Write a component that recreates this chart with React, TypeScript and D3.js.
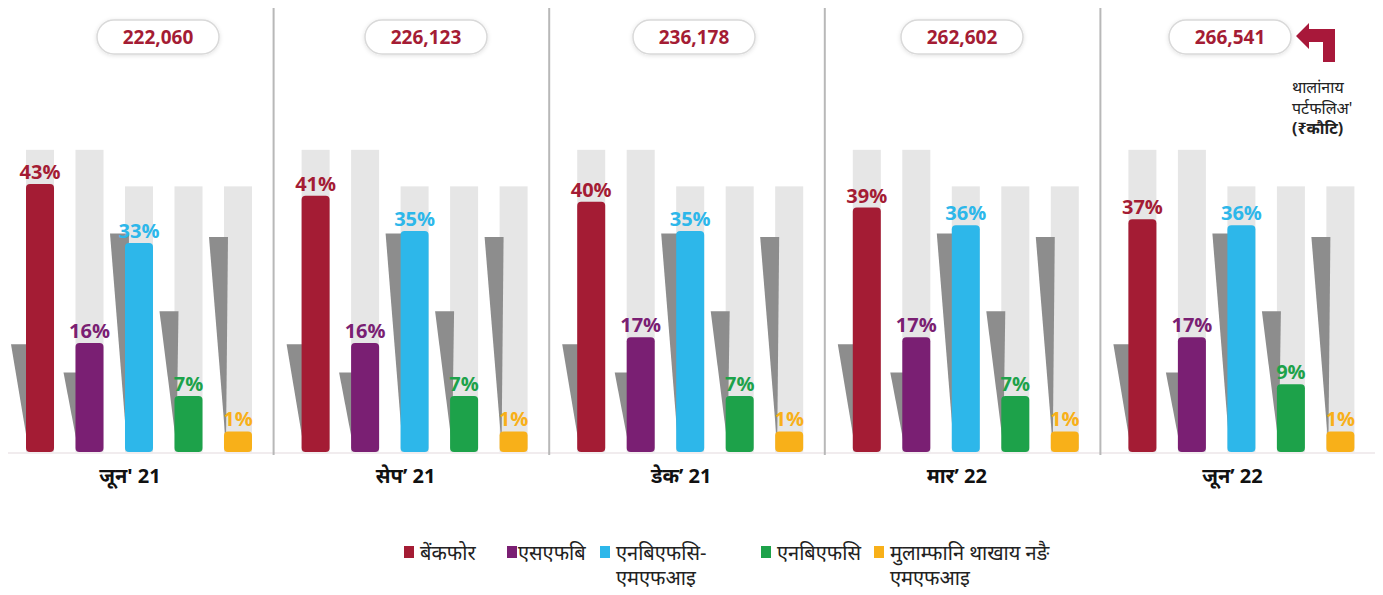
import React from "react";
import * as d3 from "d3";

const periods = ["जून' 21", "सेप’ 21", "डेक’ 21", "मार’ 22", "जून’ 22"];
const totals = [222060, 226123, 236178, 262602, 266541];
const seriesKeys = ["bank", "sfb", "nbfcMfi", "nbfc", "others"];
const seriesLabels = ["बेंकफोर", "एसएफबि", "एनबिएफसि-\nएमएफआइ", "एनबिएफसि", "मुलाम्फानि थाखाय नङै\nएमएफआइ"];
const seriesColors = ["#A41C34", "#7A1F73", "#2DB7EA", "#1DA24A", "#F8B019"];
const bankValues = [43, 41, 40, 39, 37];
const sfbValues = [16, 16, 17, 17, 17];
const nbfcMfiValues = [33, 35, 35, 36, 36];
const nbfcValues = [7, 7, 7, 7, 9];
const otherValues = [1, 1, 1, 1, 1];
const seriesValues = [bankValues, sfbValues, nbfcMfiValues, nbfcValues, otherValues];
const annotationLines = ["थालांनाय", "पर्टफलिअ'", "(₹कौटि)"];

// decorative shapes (in value units of the bar scale)
const backdropTops = [48.8, 48.8, 42.6, 42.6, 42.6];
const wedgeTops = [15.8, 11, 34.6, 21.4, 34];

const W = 1383;
const H = 595;
const baseY = 452;
const FONT = "'Open Sans', 'Noto Sans', sans-serif";
const DEVA = "'Noto Sans', 'Noto Sans Devanagari', 'Open Sans', sans-serif";

export default function App() {
  const idx = periods.map((_, i) => i);
  const xGroup = d3.scaleBand<number>().domain(idx).range([-4, 1374]).paddingInner(0).paddingOuter(0);
  const xSeries = d3.scaleBand<string>().domain(seriesKeys).range([30, 256]).paddingInner(0.434).paddingOuter(0);
  const y = d3.scaleLinear().domain([-2.5, 43]).range([baseY, 184]);
  const pillX = d3.scalePoint<number>().domain(idx).range([158, 1230]);
  const bw = xSeries.bandwidth();

  const legendX = [404, 507, 600, 761, 874];

  return (
    <div style={{ margin: -8 }}>
      <svg width={W} height={H} style={{ display: "block", background: "#fff" }}>
        <defs>
          <filter id="pillShadow" x="-20%" y="-40%" width="140%" height="180%">
            <feGaussianBlur in="SourceAlpha" stdDeviation="2" />
            <feOffset dx="0" dy="1" result="b" />
            <feFlood floodColor="#000" floodOpacity="0.12" />
            <feComposite in2="b" operator="in" />
            <feMerge>
              <feMergeNode />
              <feMergeNode in="SourceGraphic" />
            </feMerge>
          </filter>
        </defs>

        {/* baseline */}
        <line x1={0} x2={W} y1={baseY + 1} y2={baseY + 1} stroke="#ece6e8" strokeWidth={1.5} />

        {/* separators */}
        {idx.slice(1).map((i) => (
          <line key={"sep" + i} x1={xGroup(i)! + 2} x2={xGroup(i)! + 2} y1={5} y2={455} stroke="#b8b8b8" strokeWidth={2} />
        ))}

        {idx.map((gi) => {
          const gx = xGroup(gi)!;
          return (
            <g key={"g" + gi}>
              {seriesKeys.map((k, si) => {
                const bx = gx + xSeries(k)!;
                return (
                  <rect key={"bg" + k} x={bx} y={y(backdropTops[si])} width={bw} height={baseY - y(backdropTops[si])} fill="#e6e6e6" />
                );
              })}
              {seriesKeys.map((k, si) => {
                const bx = gx + xSeries(k)!;
                const wt = y(wedgeTops[si]);
                const left = si === 1 ? bx - 12 : bx - 15;
                return (
                  <path
                    key={"w" + k}
                    d={`M${left},${wt} L${bx + 4},${wt} L${bx + 2},${baseY - 6} Z`}
                    fill="#8d8d8d"
                  />
                );
              })}
              {seriesKeys.map((k, si) => {
                const bx = gx + xSeries(k)!;
                const v = seriesValues[si][gi];
                const top = y(v);
                return (
                  <g key={"b" + k}>
                    <rect x={bx} y={top} width={bw} height={baseY - top} rx={4} ry={4} fill={seriesColors[si]} />
                    <text
                      x={bx + bw / 2}
                      y={top - 5}
                      textAnchor="middle"
                      fontFamily={FONT}
                      fontWeight={700}
                      fontSize={20}
                      fill={seriesColors[si]}
                    >
                      {v + "%"}
                    </text>
                  </g>
                );
              })}
              <text x={gx + 134} y={483} textAnchor="middle" fontFamily={DEVA} fontWeight={700} fontSize={20} fill="#111">
                {periods[gi]}
              </text>
              <g filter="url(#pillShadow)">
                <rect x={pillX(gi)! - 61} y={20} width={122} height={34} rx={17} ry={17} fill="#fff" stroke="#d9d9d9" strokeWidth={1.5} />
              </g>
              <text x={pillX(gi)!} y={44} textAnchor="middle" fontFamily={FONT} fontWeight={700} fontSize={19} fill="#A41C34">
                {d3.format(",")(totals[gi])}
              </text>
            </g>
          );
        })}

        {/* arrow annotation */}
        <path
          d="M1296,36 L1309,23 L1309,29 L1335,29 L1335,62 L1323,62 L1323,42 L1309,42 L1309,49 Z"
          fill="#A8183A"
        />
        {annotationLines.map((t, i) => (
          <text key={"an" + i} x={1292} y={93 + i * 20.5} fontFamily={DEVA} fontSize={16} fontWeight={i === 2 ? 700 : 400} fill="#222">
            {t}
          </text>
        ))}

        {/* legend */}
        {seriesKeys.map((k, si) => {
          const lines = seriesLabels[si].split("\n");
          const lx = legendX[si];
          return (
            <g key={"lg" + k}>
              <rect x={lx} y={546} width={10} height={12} fill={seriesColors[si]} />
              {lines.map((ln, li) => (
                <text key={li} x={lx + (si === 1 ? 11 : 16)} y={560 + li * 25} fontFamily={DEVA} fontSize={20} fill="#222">
                  {ln}
                </text>
              ))}
            </g>
          );
        })}
      </svg>
    </div>
  );
}
